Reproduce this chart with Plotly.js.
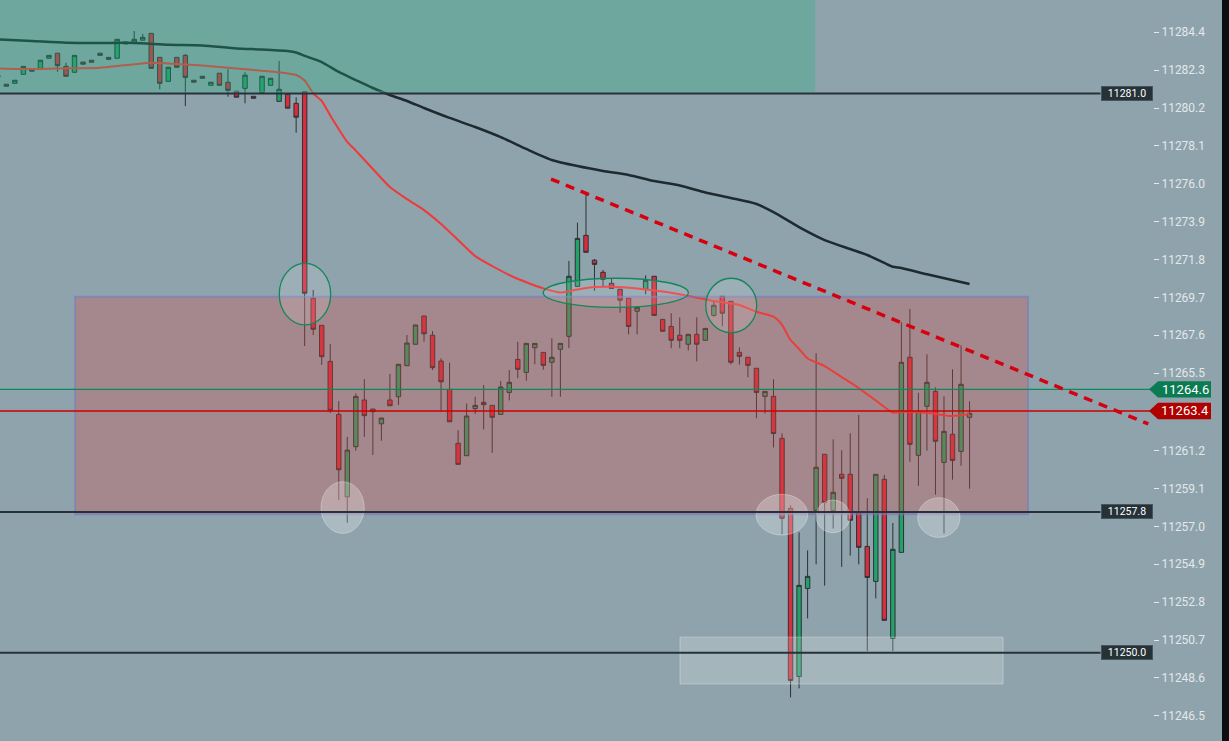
<!DOCTYPE html>
<html><head><meta charset="utf-8">
<script src="https://cdn.plot.ly/plotly-3.0.1.min.js"></script>
<style>html,body{margin:0;padding:0;background:#0d0e0f;overflow:hidden}#chart{width:1222px;height:741px}</style>
</head><body><div id="chart"></div>
<script>
// ---- candle data (index order, left to right) ----
const open = [
11282.02,11281.52,11281.57,11282.07,11282.35,11282.40,11282.96,11283.24,11282.51,11282.18,
11282.75,11282.85,11283.24,11283.01,11282.96,11283.86,11283.85,11283.96,11284.34,11283.01,
11281.68,11283.01,11283.12,11281.74,11281.96,11281.46,11282.13,11281.63,11281.13,11281.29,
11280.85,11281.07,11281.46,11280.57,11280.96,11280.46,11281.11,11269.65,11268.15,11266.15,
11263.21,11258.64,11261.42,11264.01,11263.51,11262.69,11264.01,11264.19,11265.91,11267.10,
11268.67,11267.60,11266.17,11264.60,11261.61,11260.92,11263.53,11263.88,11263.71,11263.21,
11264.43,11266.26,11265.54,11266.91,11266.65,11266.10,11266.82,11267.54,11270.31,11273.14,
11271.76,11271.09,11270.48,11270.15,11269.65,11268.93,11270.15,11270.87,11268.48,11268.09,
11267.60,11267.10,11267.65,11267.32,11268.70,11269.76,11269.48,11266.65,11266.38,11265.77,
11264.21,11264.21,11261.88,11258.00,11248.68,11253.56,11257.89,11261.00,11257.89,11259.89,
11259.89,11257.78,11255.89,11253.95,11259.61,11250.79,11255.56,11266.38,11260.94,11263.66,
11264.49,11260.55,11262.11,11261.16,11263.05];
const high = [
11282.02,11281.52,11281.74,11282.51,11282.35,11282.85,11283.12,11283.24,11282.71,11283.12,
11282.75,11282.85,11283.24,11283.01,11284.01,11283.86,11284.47,11284.31,11284.34,11283.01,
11282.46,11283.01,11283.20,11281.74,11281.96,11281.63,11282.13,11282.35,11281.13,11282.18,
11280.85,11281.96,11281.85,11282.81,11280.96,11280.80,11281.11,11270.11,11268.15,11267.11,
11263.95,11261.97,11264.38,11265.17,11263.51,11263.01,11265.45,11265.99,11267.61,11268.17,
11268.67,11267.83,11266.32,11266.08,11262.34,11263.82,11264.19,11264.84,11263.71,11265.06,
11265.67,11267.24,11267.15,11267.15,11266.65,11267.43,11267.15,11271.72,11273.84,11275.47,
11271.83,11271.22,11270.73,11270.15,11269.65,11269.15,11270.92,11270.87,11268.48,11268.82,
11268.59,11267.65,11268.59,11267.98,11269.48,11269.76,11269.48,11266.93,11266.38,11265.77,
11264.49,11265.16,11262.16,11258.17,11256.67,11255.67,11266.60,11261.00,11261.83,11261.22,
11262.16,11263.18,11258.56,11259.89,11259.86,11257.19,11268.32,11269.05,11264.41,11266.54,
11264.71,11264.21,11265.71,11267.04,11263.94];
const low = [
11281.90,11281.41,11281.57,11282.07,11282.24,11282.40,11282.96,11282.21,11281.96,11282.18,
11282.63,11282.74,11283.12,11282.90,11282.96,11283.75,11283.85,11283.96,11282.40,11281.24,
11281.68,11282.46,11280.31,11281.63,11281.85,11281.46,11281.46,11280.83,11280.80,11280.46,
11280.74,11281.07,11281.46,11280.57,11280.19,11278.83,11267.00,11267.61,11265.95,11263.29,
11258.46,11257.20,11261.20,11261.97,11260.96,11261.75,11263.69,11263.73,11265.91,11267.10,
11267.24,11265.67,11263.36,11262.80,11260.44,11260.92,11263.23,11262.38,11261.08,11263.21,
11263.99,11265.21,11265.08,11265.99,11265.69,11264.19,11264.19,11266.88,11270.31,11272.20,
11270.07,11270.33,11270.20,11268.85,11267.65,11267.65,11269.87,11268.70,11267.82,11266.88,
11266.88,11266.76,11266.15,11267.32,11268.63,11268.09,11265.98,11265.97,11265.27,11262.99,
11263.27,11261.38,11256.56,11247.52,11248.02,11251.90,11254.90,11253.71,11256.89,11254.76,
11255.38,11254.90,11250.09,11253.01,11251.79,11250.09,11255.56,11260.59,11259.25,11261.20,
11258.76,11256.61,11259.59,11260.36,11259.09];
const close = [
11281.90,11281.41,11281.74,11282.51,11282.24,11282.85,11283.12,11282.55,11281.96,11283.12,
11282.63,11282.74,11283.12,11282.90,11284.01,11283.75,11284.01,11284.12,11282.40,11281.57,
11282.46,11282.46,11281.90,11281.63,11281.85,11281.63,11281.46,11281.18,11280.80,11282.02,
11280.74,11281.96,11281.85,11281.24,11280.19,11279.69,11269.93,11267.93,11266.41,11263.44,
11260.14,11261.23,11264.21,11263.14,11263.36,11263.01,11263.69,11265.99,11267.17,11268.17,
11267.68,11265.80,11265.02,11262.80,11260.44,11263.12,11263.71,11263.75,11263.05,11264.73,
11264.99,11265.71,11267.15,11267.15,11265.93,11266.38,11267.15,11270.87,11272.97,11272.20,
11271.53,11270.70,11270.20,11269.54,11268.09,11269.15,11270.65,11268.70,11267.82,11267.32,
11267.32,11267.65,11267.10,11267.98,11269.26,11268.82,11266.10,11266.43,11265.93,11264.43,
11264.49,11262.15,11257.45,11248.46,11253.73,11254.23,11260.28,11258.33,11258.89,11259.67,
11257.34,11255.84,11254.17,11259.89,11251.79,11255.73,11266.10,11261.55,11263.38,11264.99,
11261.72,11262.27,11260.66,11264.88,11263.27];
const candleIdx = open.map((_, i) => i);

// ---- moving averages (read at sampled candles) ----
const maFastIdx = [0,4,8,12,16,18,20,24,28,31,33,35,36,37,38,39,41,42,44,46,48,50,52,54,56,58,60,62,64,66,68,70,72,75,78,81,84,87,89,91,92,93,94,95,97,99,101,103,105,106,109,112,114];
const maFastVal = [11282.40,11282.36,11282.40,11282.44,11282.63,11282.71,11282.67,11282.56,11282.39,11282.27,11282.18,11282.03,11281.73,11281.01,11280.59,11279.79,11278.32,11277.84,11276.82,11275.82,11275.15,11274.54,11273.77,11272.88,11271.99,11271.44,11270.94,11270.54,11270.20,11269.97,11270.14,11270.27,11270.29,11270.19,11270.02,11269.78,11269.50,11269.28,11268.90,11268.63,11268.17,11267.34,11266.84,11266.31,11265.89,11265.28,11264.67,11263.98,11263.31,11263.36,11263.30,11263.12,11263.23];
const maSlowIdx = [0,4,8,12,16,20,24,28,31,34,35,36,38,40,42,44,46,48,50,53,56,59,62,65,68,71,74,77,80,83,86,89,91,94,97,100,102,104,105,106,109,114];
const maSlowVal = [11284.01,11283.92,11283.82,11283.81,11283.81,11283.71,11283.67,11283.50,11283.45,11283.36,11283.28,11283.09,11282.75,11282.20,11281.75,11281.31,11280.92,11280.59,11280.20,11279.65,11279.15,11278.59,11277.93,11277.32,11276.98,11276.71,11276.49,11276.15,11275.90,11275.52,11275.21,11274.88,11274.43,11273.60,11272.88,11272.38,11272.05,11271.61,11271.40,11271.33,11270.98,11270.44];

// ---- axis ticks ----
const tickLabels = ['11284.4','11282.3','11280.2','11278.1','11276.0','11273.9','11271.8','11269.7','11267.6','11265.5','11261.2','11259.1','11257.0','11254.9','11252.8','11250.7','11248.6','11246.5'];

// ---- levels, last prices, trend line, zones ----
const levelValues = [11281.0, 11257.8, 11250.0];
const levelLabels = ['11281.0', '11257.8', '11250.0'];
const lastValues = [11264.6, 11263.4];
const lastLabels = ['11264.6', '11263.4'];
const trendX = [64.9, 134.97];
const trendY = [11276.26, 11262.68];
const zoneTeal = {x: [-5, 95.87], y: [11281.09, 11292]};
const zonePink = {x: [9.06, 120.86], y: [11257.67, 11269.74]};
const zoneLow = {x: [80.03, 117.93], y: [11248.26, 11250.86]};
const greenMarks = [[33.02, 39.05, 11268.17, 11271.59], [63.99, 81.01, 11269.15, 11270.76], [83.05, 89.03, 11267.74, 11270.76]];
const whiteMarks = [[37.92, 42.99, 11256.61, 11259.48], [88.95, 95.01, 11256.52, 11258.78], [95.99, 99.97, 11256.65, 11258.46], [107.92, 112.88, 11256.39, 11258.59]];

const yRange = [11245.10, 11286.19];
const xRange = [0.258, 135.52];
const plotW = 1153;
const yp = v => (v - yRange[0]) / (yRange[1] - yRange[0]);
const xp = px => px / plotW;

const traces = [
  {type: 'candlestick', x: candleIdx, open: open, high: high, low: low, close: close,
   increasing: {line: {color: '#2c3236', width: 1}, fillcolor: '#22a169'},
   decreasing: {line: {color: '#2c3236', width: 1}, fillcolor: '#d92c3d'},
   whiskerwidth: 0, hoverinfo: 'skip', showlegend: false},
  {type: 'scatter', mode: 'lines', x: maSlowIdx, y: maSlowVal, line: {color: '#1f2a30', width: 2.5, shape: 'spline', smoothing: 0.6}, hoverinfo: 'skip', showlegend: false},
  {type: 'scatter', mode: 'lines', x: maFastIdx, y: maFastVal, line: {color: '#ee3a3a', width: 2, shape: 'spline', smoothing: 0.6}, hoverinfo: 'skip', showlegend: false}
];

const shapes = [];
shapes.push({type: 'rect', layer: 'above', xref: 'x', yref: 'y', x0: zoneTeal.x[0], x1: zoneTeal.x[1], y0: zoneTeal.y[0], y1: zoneTeal.y[1],
  fillcolor: 'rgba(33,180,125,0.30)', line: {color: 'rgba(110,175,170,0.6)', width: 1}});
shapes.push({type: 'rect', layer: 'above', xref: 'x', yref: 'y', x0: zonePink.x[0], x1: zonePink.x[1], y0: zonePink.y[0], y1: zonePink.y[1],
  fillcolor: 'rgba(219,76,68,0.30)', line: {color: 'rgba(115,125,195,0.6)', width: 2}});
shapes.push({type: 'rect', layer: 'above', xref: 'x', yref: 'y', x0: zoneLow.x[0], x1: zoneLow.x[1], y0: zoneLow.y[0], y1: zoneLow.y[1],
  fillcolor: 'rgba(255,255,255,0.2)', line: {color: 'rgba(255,255,255,0.3)', width: 1}});
greenMarks.forEach(m => shapes.push({type: 'circle', layer: 'above', xref: 'x', yref: 'y', x0: m[0], x1: m[1], y0: m[2], y1: m[3],
  fillcolor: 'rgba(255,255,255,0.12)', line: {color: '#12875a', width: 1.3}}));
whiteMarks.forEach(m => shapes.push({type: 'circle', layer: 'above', xref: 'x', yref: 'y', x0: m[0], x1: m[1], y0: m[2], y1: m[3],
  fillcolor: 'rgba(255,255,255,0.25)', line: {color: 'rgba(255,255,255,0.3)', width: 1}}));
levelValues.forEach(v => shapes.push({type: 'line', layer: 'above', xref: 'paper', yref: 'y', x0: 0, x1: xp(1100.5), y0: v, y1: v,
  line: {color: '#263238', width: 2}}));
shapes.push({type: 'line', layer: 'above', xref: 'paper', yref: 'y', x0: 0, x1: 1, y0: lastValues[0], y1: lastValues[0], line: {color: '#0b8a5b', width: 1.3}});
shapes.push({type: 'line', layer: 'above', xref: 'paper', yref: 'y', x0: 0, x1: 1, y0: lastValues[1], y1: lastValues[1], line: {color: '#cc0000', width: 1.3}});
shapes.push({type: 'line', layer: 'above', xref: 'x', yref: 'y', x0: trendX[0], x1: trendX[1], y0: trendY[0], y1: trendY[1],
  line: {color: '#d60010', width: 3.5, dash: '9px,7px'}});
// last-price tags
const tagColors = ['#0b7b52', '#b00000'];
lastValues.forEach((v, k) => {
  const yc = yp(v), h = 8.2 / 741;
  const a = xp(1149), b = xp(1158), c = xp(1211);
  shapes.push({type: 'path', layer: 'above', xref: 'paper', yref: 'paper',
    path: `M ${a},${yc} L ${b},${yc + h} L ${c},${yc + h} L ${c},${yc - h} L ${b},${yc - h} Z`,
    fillcolor: tagColors[k], line: {width: 0}});
});

const annotations = [];
levelValues.forEach((v, k) => annotations.push({xref: 'paper', yref: 'y', x: 1, xanchor: 'right', y: v, yanchor: 'middle',
  text: levelLabels[k], showarrow: false, font: {family: 'Roboto', size: 10.5, color: '#ffffff'},
  bgcolor: '#263238', bordercolor: '#46555c', borderwidth: 1, borderpad: 1, width: 48, height: 11}));
lastValues.forEach((v, k) => annotations.push({xref: 'paper', yref: 'y', x: xp(1185), xanchor: 'center', y: v, yanchor: 'middle',
  text: lastLabels[k], showarrow: false, font: {family: 'Roboto', size: 13, color: '#ffffff'}}));

const layout = {
  width: 1222, height: 741,
  margin: {l: 0, r: 1222 - plotW, t: 0, b: 0},
  paper_bgcolor: '#8fa3ac', plot_bgcolor: '#8fa3ac',
  showlegend: false, hovermode: false, boxgap: 0.26,
  xaxis: {range: xRange, showgrid: false, zeroline: false, showticklabels: false, ticks: '', showline: false,
          rangeslider: {visible: false}, fixedrange: true},
  yaxis: {side: 'right', range: yRange, tickvals: tickLabels.map(Number), ticktext: tickLabels,
          ticks: 'outside', ticklen: 5, tickwidth: 1, tickcolor: '#e2e8eb',
          tickfont: {family: 'Roboto', size: 12, color: '#e2e8eb'},
          showgrid: false, zeroline: false, showline: false, fixedrange: true},
  shapes: shapes, annotations: annotations
};
Plotly.newPlot('chart', traces, layout, {displayModeBar: false, staticPlot: true});
</script></body></html>
